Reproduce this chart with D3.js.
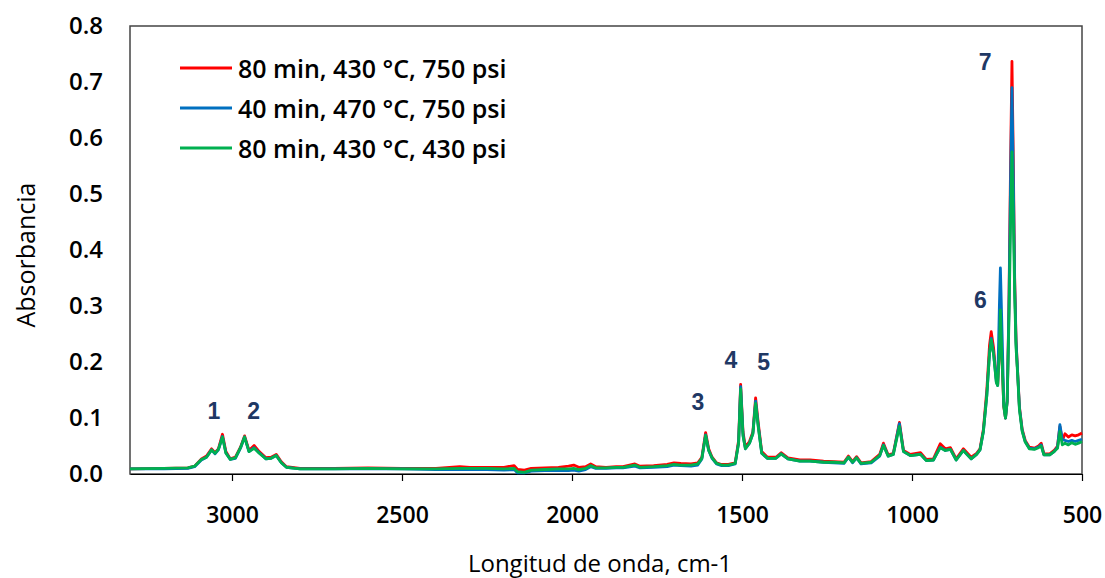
<!DOCTYPE html>
<html><head><meta charset="utf-8">
<script src="https://cdn.jsdelivr.net/npm/d3@7"></script>
<style>body{margin:0;background:#fff;} svg{display:block;}</style>
</head><body>
<svg id="c" width="1105" height="578"></svg>
<script>
const wavenumber = [3300,3200,3130,3110,3090,3075,3060,3050,3040,3028,3018,3005,2990,2975,2963,2950,2935,2920,2900,2885,2870,2855,2840,2800,2700,2600,2500,2400,2330,2300,2250,2200,2170,2160,2140,2120,2080,2040,2010,1995,1980,1960,1945,1930,1900,1870,1850,1815,1800,1760,1720,1700,1680,1650,1630,1618,1607,1598,1588,1575,1560,1540,1520,1510,1504,1497,1490,1478,1468,1460,1452,1442,1425,1400,1385,1365,1330,1300,1260,1230,1200,1187,1175,1163,1150,1120,1095,1084,1070,1055,1037,1025,1005,975,958,937,917,902,887,870,849,826,810,800,790,780,772,767,760,752,748,743,740,735,730,725,720,715,710,706,702,698,694,690,684,676,667,655,640,628,620,612,595,582,572,565,558,550,540,530,520,510,500];
const red = [.009,.010,.011,.014,.027,.032,.045,.038,.045,.071,.040,.027,.030,.048,.068,.042,.051,.040,.029,.030,.035,.022,.013,.010,.010,.011,.010,.010,.013,.012,.012,.012,.015,.008,.007,.010,.011,.012,.014,.016,.012,.013,.018,.013,.012,.013,.013,.018,.014,.015,.017,.020,.019,.018,.020,.030,.074,.045,.030,.020,.017,.017,.020,.060,.160,.075,.048,.058,.075,.136,.090,.040,.030,.030,.038,.029,.025,.025,.023,.022,.021,.032,.022,.031,.020,.022,.035,.055,.034,.037,.092,.042,.035,.038,.026,.027,.054,.045,.047,.027,.045,.030,.037,.045,.080,.150,.230,.254,.225,.170,.160,.220,.292,.200,.120,.100,.130,.300,.560,.737,.560,.350,.240,.190,.120,.080,.060,.048,.046,.050,.055,.036,.036,.042,.050,.085,.060,.072,.066,.070,.068,.070,.073];
const blue = [.009,.009,.010,.013,.025,.030,.043,.036,.043,.067,.038,.026,.028,.046,.066,.040,.047,.038,.027,.028,.033,.020,.012,.009,.009,.009,.009,.008,.008,.008,.008,.007,.008,.002,.002,.005,.006,.006,.006,.007,.005,.008,.013,.010,.010,.011,.011,.014,.011,.012,.013,.016,.015,.014,.016,.027,.070,.042,.028,.018,.015,.015,.018,.056,.156,.070,.045,.055,.072,.130,.085,.037,.028,.028,.036,.027,.023,.023,.021,.020,.019,.030,.020,.029,.018,.020,.032,.052,.032,.035,.090,.040,.033,.035,.024,.025,.048,.042,.044,.025,.042,.027,.035,.043,.076,.140,.215,.242,.215,.165,.158,.300,.368,.250,.125,.100,.130,.290,.530,.690,.530,.340,.235,.190,.118,.078,.058,.046,.045,.048,.052,.034,.034,.040,.048,.088,.062,.060,.058,.060,.058,.060,.062];
const green = [.009,.010,.011,.014,.026,.030,.043,.037,.044,.066,.037,.026,.029,.047,.066,.040,.046,.037,.027,.028,.033,.020,.012,.009,.009,.010,.009,.009,.010,.010,.010,.009,.010,.004,.003,.007,.008,.009,.009,.010,.008,.010,.015,.011,.011,.012,.012,.016,.012,.013,.015,.017,.016,.016,.018,.028,.069,.042,.029,.019,.016,.016,.019,.055,.152,.068,.045,.055,.072,.126,.083,.037,.028,.028,.036,.027,.023,.023,.021,.021,.020,.030,.021,.029,.019,.021,.033,.051,.032,.035,.085,.040,.033,.035,.024,.025,.047,.042,.044,.025,.042,.027,.035,.043,.076,.140,.215,.240,.213,.163,.158,.220,.293,.200,.120,.100,.130,.270,.450,.575,.460,.320,.225,.185,.115,.076,.057,.045,.044,.047,.050,.034,.034,.040,.046,.076,.052,.055,.052,.056,.053,.055,.058];
const seriesNames = ["80 min, 430 °C, 750 psi","40 min, 470 °C, 750 psi","80 min, 430 °C, 430 psi"];
const seriesColors = ["#ff0000","#0070c0","#00b050"];
const xTicks = [3000,2500,2000,1500,1000,500];
const yTicks = [0,0.1,0.2,0.3,0.4,0.5,0.6,0.7,0.8];
const peakLabels = ["1","2","3","4","5","6","7"];
const peakX = [3053,2936,1630,1533,1436,799,785];
const peakY = [0.1125,0.1125,0.129,0.204,0.200,0.311,0.736];

const svg = d3.select("#c");
const L=130,R=1082,T=26,B=474;
const x = d3.scaleLinear().domain([3300,500]).range([L,R]);
const y = d3.scaleLinear().domain([0,0.8]).range([B,T]);
const font = "'Open Sans', sans-serif";

// frame
svg.append("rect").attr("x",L).attr("y",T).attr("width",R-L).attr("height",B-T)
  .attr("fill","none").attr("stroke","#444").attr("stroke-width",1.5);

// x axis
const xa = svg.append("g").attr("transform",`translate(0,${B})`)
  .call(d3.axisBottom(x).tickValues(xTicks).tickSize(7).tickSizeOuter(0).tickFormat(d3.format("d")));
xa.select(".domain").attr("stroke","#000").attr("stroke-width",1.2);
xa.selectAll(".tick line").attr("stroke","#000").attr("stroke-width",1.2);
xa.selectAll("text").attr("y",41).attr("dy","0.35em").attr("font-family",font).attr("font-size",23).attr("font-weight",600).attr("fill","#000");

// y axis
const ya = svg.append("g").attr("transform",`translate(${L},0)`)
  .call(d3.axisLeft(y).tickValues(yTicks).tickSize(0).tickPadding(27).tickFormat(d3.format(".1f")));
ya.select(".domain").remove();
ya.selectAll("text").attr("font-family",font).attr("font-size",24).attr("font-weight",600).attr("fill","#000");

// lines
const allSeries=[red,blue,green];
allSeries.forEach((s,k)=>{
  svg.append("path").datum(s).attr("d",d3.line().x((d,i)=>x(wavenumber[i])).y(d=>y(d)))
    .attr("fill","none").attr("stroke",seriesColors[k]).attr("stroke-width",2.8).attr("stroke-linejoin","round");
});

// peak labels
peakLabels.forEach((t,i)=>{
  svg.append("text").attr("x",x(peakX[i])).attr("y",y(peakY[i])).attr("text-anchor","middle")
    .attr("dominant-baseline","central").attr("font-family","'Liberation Sans', Arial, sans-serif")
    .attr("font-weight","bold").attr("font-size",23).attr("fill","#1f3864").text(t);
});

// legend
seriesNames.forEach((n,i)=>{
  const yy=[68,108,148][i];
  svg.append("line").attr("x1",180).attr("x2",232).attr("y1",yy).attr("y2",yy)
    .attr("stroke",seriesColors[i]).attr("stroke-width",2.8);
  svg.append("text").attr("x",238).attr("y",yy).attr("dominant-baseline","central")
    .attr("font-family",font).attr("font-size",25).attr("font-weight",600).attr("fill","#000").text(n);
});

// axis titles
svg.append("text").attr("transform","translate(25,255) rotate(-90)").attr("text-anchor","middle")
  .attr("dominant-baseline","central").attr("font-family",font).attr("font-size",25).attr("fill","#000").text("Absorbancia");
svg.append("text").attr("x",600).attr("y",562).attr("text-anchor","middle").attr("dominant-baseline","central")
  .attr("font-family",font).attr("font-size",24).attr("fill","#000").text("Longitud de onda, cm-1");
</script>
</body></html>
